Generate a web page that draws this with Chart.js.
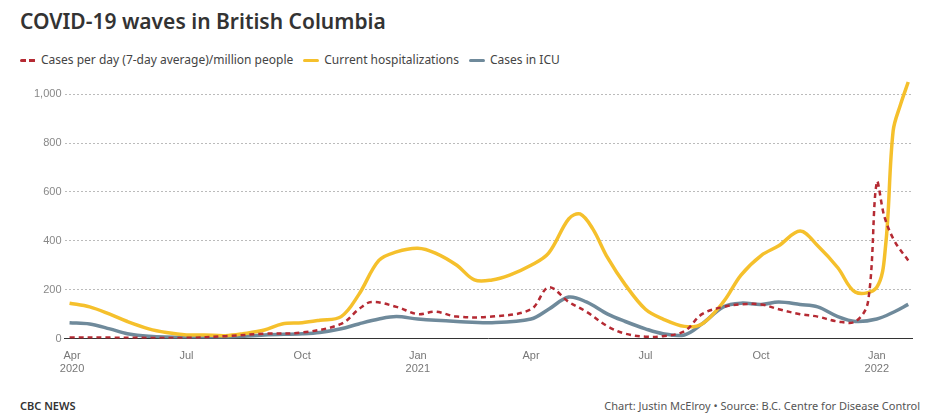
<!DOCTYPE html>
<html>
<head>
<meta charset="utf-8">
<script src="https://cdn.jsdelivr.net/npm/chart.js@4"></script>
<style>
  body { margin: 0; width: 928px; height: 419px; font-family: "Noto Sans", sans-serif; background: #fff; position: relative; overflow: hidden; }
  h1 { position: absolute; left: 20px; top: 7px; margin: 0; font-size: 21px; font-weight: 600; color: #333; }
  .legend { position: absolute; left: 20px; top: 51px; font-size: 12px; color: #444; display: flex; gap: 10px; }
  .legend span i { display: inline-block; width: 16px; height: 3px; vertical-align: middle; margin-right: 5px; border-radius: 2px; }
  #wrap { position: absolute; left: 0; top: 70px; width: 928px; height: 309px; }
  .foot { position: absolute; top: 398px; font-size: 11px; color: #555; }
</style>
</head>
<body>
<h1>COVID-19 waves in British Columbia</h1>
<div class="legend">
  <span><i style="background:repeating-linear-gradient(90deg,#b52a33 0 6px,transparent 6px 9px)"></i>Cases per day (7-day average)/million people</span>
  <span><i style="background:#f5c02c"></i>Current hospitalizations</span>
  <span><i style="background:#6f8a9b"></i>Cases in ICU</span>
</div>
<div id="wrap"><canvas id="c"></canvas></div>
<div class="foot" style="left:20px;font-weight:600;color:#333">CBC NEWS</div>
<div class="foot" style="right:8px">Chart: Justin McElroy • Source: B.C. Centre for Disease Control</div>
<script>
const hospDates = ["2020-03-30","2020-04-15","2020-05-01","2020-05-15","2020-06-01","2020-06-15","2020-07-01","2020-07-15","2020-08-01","2020-08-15","2020-09-01","2020-09-15","2020-10-01","2020-10-15","2020-11-01","2020-11-15","2020-12-01","2020-12-15","2021-01-01","2021-01-15","2021-02-01","2021-02-15","2021-03-01","2021-03-15","2021-04-01","2021-04-15","2021-05-01","2021-05-10","2021-05-20","2021-06-01","2021-06-15","2021-07-01","2021-07-15","2021-08-01","2021-08-15","2021-09-01","2021-09-15","2021-10-01","2021-10-15","2021-11-01","2021-11-15","2021-12-01","2021-12-15","2022-01-01","2022-01-08","2022-01-14","2022-01-20","2022-01-26"];
const hospValues = [145,130,100,70,40,25,15,15,12,20,35,60,65,75,90,180,320,355,370,350,300,240,240,260,300,350,490,510,450,330,220,120,80,50,60,150,260,340,380,440,380,290,190,210,380,850,960,1050];
const caseDates = ["2020-03-30","2020-05-01","2020-07-01","2020-08-01","2020-09-01","2020-10-01","2020-11-01","2020-11-15","2020-11-25","2020-12-15","2021-01-01","2021-01-15","2021-02-01","2021-03-01","2021-04-01","2021-04-15","2021-05-01","2021-05-15","2021-06-01","2021-06-15","2021-07-01","2021-07-15","2021-08-01","2021-08-15","2021-09-01","2021-09-15","2021-10-01","2021-10-15","2021-11-01","2021-11-15","2021-12-01","2021-12-15","2021-12-25","2022-01-01","2022-01-07","2022-01-15","2022-01-26"];
const caseValues = [5,4,3,10,20,25,60,120,150,130,100,110,90,90,120,210,150,110,50,20,8,10,30,100,130,140,140,120,100,90,70,70,150,640,500,400,320];
const icuDates = ["2020-03-30","2020-04-15","2020-05-01","2020-05-15","2020-06-01","2020-07-01","2020-08-01","2020-09-01","2020-10-01","2020-10-15","2020-11-01","2020-11-15","2020-12-01","2020-12-15","2021-01-01","2021-02-01","2021-03-01","2021-04-01","2021-04-15","2021-05-01","2021-05-15","2021-06-01","2021-06-15","2021-07-01","2021-07-15","2021-08-01","2021-08-15","2021-09-01","2021-09-15","2021-10-01","2021-10-15","2021-11-01","2021-11-15","2021-12-01","2021-12-15","2022-01-01","2022-01-15","2022-01-26"];
const icuValues = [65,60,40,20,10,5,5,15,20,25,40,60,80,90,80,70,65,80,120,170,150,100,70,40,20,15,60,130,145,140,150,140,130,90,70,80,110,140];
const tickDates = ["2020-04-01","2020-07-01","2020-10-01","2021-01-01","2021-04-01","2021-07-01","2021-10-01","2022-01-01"];
const tickLabels = [["Apr","2020"],"Jul","Oct",["Jan","2021"],"Apr","Jul","Oct",["Jan","2022"]];
const yTicks = [0,200,400,600,800,1000];

const DAY = 86400000, origin = Date.UTC(2020, 3, 1);
const day = s => (Date.parse(s + "T00:00:00Z") - origin) / DAY;
const pts = (d, v) => d.map((s, i) => ({ x: day(s), y: v[i] }));
const tickDays = tickDates.map(day);

new Chart(document.getElementById("c"), {
  type: "line",
  data: {
    datasets: [
      { data: pts(caseDates, caseValues), borderColor: "#b52a33", borderWidth: 2.5, borderDash: [5, 4], tension: 0.35, pointRadius: 0 },
      { data: pts(hospDates, hospValues), borderColor: "#f5c02c", borderWidth: 3.5, tension: 0.35, pointRadius: 0 },
      { data: pts(icuDates, icuValues), borderColor: "#6f8a9b", borderWidth: 3.5, tension: 0.35, pointRadius: 0 }
    ]
  },
  options: {
    responsive: true, maintainAspectRatio: false, animation: false,
    layout: { padding: { left: 31, right: 16, top: 7 } },
    plugins: { legend: { display: false }, tooltip: { enabled: false } },
    scales: {
      x: {
        type: "linear", min: -6, max: 668,
        afterBuildTicks: ax => { ax.ticks = tickDays.map(v => ({ value: v })); },
        ticks: { autoSkip: false, maxRotation: 0, color: "#777", font: { size: 11 },
          callback: (v) => tickLabels[tickDays.indexOf(v)] },
        grid: { display: false },
        border: { color: "#333", width: 1 }
      },
      y: {
        min: 0, max: 1060,
        afterBuildTicks: ax => { ax.ticks = yTicks.map(v => ({ value: v })); },
        ticks: { color: "#888", font: { size: 11 }, callback: v => v.toLocaleString("en-US") },
        grid: { color: "#bbb", drawTicks: false },
        border: { display: false, dash: [2, 2] }
      }
    }
  }
});
</script>
</body>
</html>
